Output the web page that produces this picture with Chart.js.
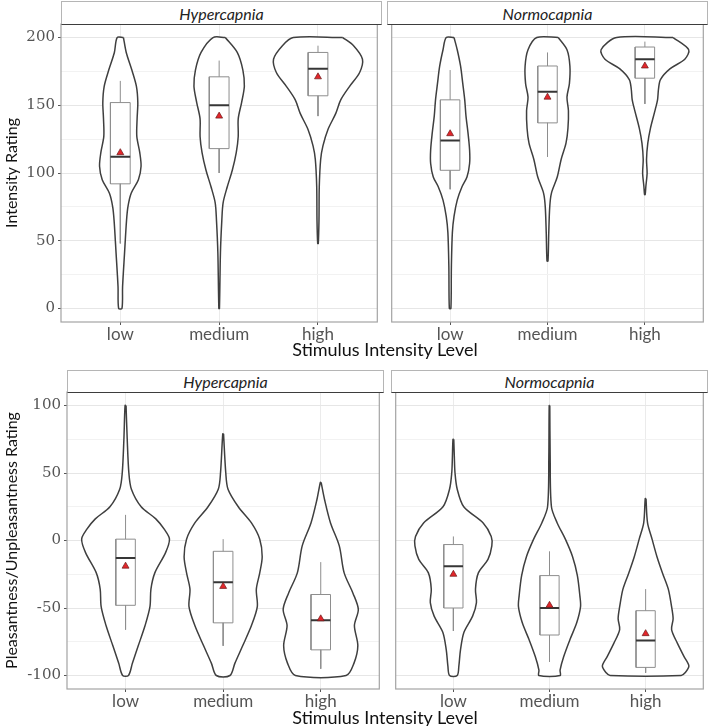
<!DOCTYPE html>
<html>
<head>
<meta charset="utf-8">
<script src="https://cdn.jsdelivr.net/npm/chart.js@4.4.1/dist/chart.umd.min.js"></script>
<style>
  body { margin: 0; background: #fff; width: 709px; height: 726px; position: relative; overflow: hidden; }
  canvas { position: absolute; }
  .strip { position: absolute; box-sizing: border-box; background: #fff; border: 1px solid #b5b5b5;
           border-bottom: 1.5px solid #3d3d3d; font: italic 16px Lato; color: #222;
           display: flex; align-items: center; justify-content: center; }
  .xtitle { position: absolute; width: 400px; text-align: center; font: 18px Lato; color: #111; line-height: 20px; }
</style>
</head>
<body>
<script>
const levels = ['low', 'medium', 'high'];
const conditions = ['Hypercapnia', 'Normocapnia'];
const intensityTicks = [0, 50, 100, 150, 200];
const valenceTicks = [-100, -50, 0, 50, 100];

// violin outlines: [rating, half width in category units], top to bottom
const hyperIntLow = [[200,0.032],[189,0.06],[176,0.117],[164,0.163],[152,0.177],[140,0.17],[127,0.167],[115,0.197],[105,0.21],[95,0.183],[85,0.11],[75,0.077],[65,0.063],[41,0.043],[16,0.023],[0,0.017]];
const hyperIntMed = [[200,0.062],[189,0.183],[176,0.24],[164,0.255],[152,0.227],[140,0.193],[127,0.193],[115,0.173],[102,0.133],[90,0.083],[78,0.04],[65,0.027],[41,0.013],[0,0.003]];
const hyperIntHigh = [[200,0.25],[194,0.36],[184,0.45],[174,0.42],[164,0.32],[154,0.23],[144,0.18],[132,0.1],[120,0.05],[110,0.027],[90,0.013],[65,0.01],[48,0.003]];

const normoIntLow = [[200,0.04],[191,0.073],[179,0.107],[166,0.13],[154,0.15],[142,0.163],[130,0.183],[117,0.2],[107,0.2],[97,0.173],[90,0.123],[80,0.073],[68,0.04],[56,0.023],[31,0.013],[0,0.008]];
const normoIntMed = [[200,0.11],[191,0.2],[179,0.23],[166,0.225],[156,0.2],[146,0.215],[133,0.21],[122,0.19],[110,0.14],[97,0.1],[85,0.04],[75,0.023],[56,0.013],[35,0.005]];
const normoIntHigh = [[200,0.29],[191,0.45],[184,0.41],[177,0.26],[169,0.16],[162,0.14],[154,0.13],[147,0.107],[133,0.057],[122,0.03],[110,0.017],[100,0.023],[90,0.01],[84,0.003]];

const hyperValLow = [[100,0.005],[75,0.017],[50,0.034],[38,0.06],[25,0.16],[16,0.31],[8,0.4],[1,0.45],[-9,0.41],[-24,0.3],[-36,0.26],[-49,0.25],[-63,0.2],[-78,0.13],[-91,0.07],[-100,0.03]];
const hyperValMed = [[79,0.004],[50,0.027],[38,0.05],[25,0.155],[13,0.29],[1,0.375],[-12,0.4],[-24,0.375],[-36,0.34],[-49,0.35],[-63,0.29],[-78,0.2],[-91,0.12],[-100,0.07]];
const hyperValHigh = [[43,0.004],[30,0.04],[13,0.1],[-4,0.19],[-24,0.24],[-39,0.33],[-51,0.385],[-63,0.345],[-78,0.38],[-91,0.34],[-100,0.26]];

const normoValLow = [[75,0.004],[62,0.01],[50,0.017],[38,0.04],[25,0.108],[13,0.31],[3,0.394],[-4,0.4],[-14,0.36],[-24,0.26],[-36,0.23],[-46,0.24],[-56,0.2],[-68,0.11],[-81,0.074],[-93,0.057],[-100,0.04]];
const normoValMed = [[100,0.003],[62,0.007],[25,0.02],[13,0.08],[1,0.165],[-12,0.24],[-26,0.29],[-41,0.316],[-49,0.323],[-61,0.283],[-73,0.215],[-86,0.148],[-96,0.11],[-100,0.11]];
const normoValHigh = [[31,0.004],[13,0.02],[1,0.067],[-12,0.118],[-24,0.175],[-36,0.236],[-49,0.27],[-58,0.286],[-66,0.27],[-76,0.33],[-86,0.4],[-93,0.45],[-98,0.41],[-100,0.37]];

// boxes: [lower whisker, q1, median, q3, upper whisker] per level
const hyperIntBox = [[48,92,112,152,168],[100,118,150,171,183],[142,157,177,189,194]];
const normoIntBox = [[88,102,124,154,176],[112,137,160,179,189],[151,170,184,193,197]];
const hyperValBox = [[-66,-48,-13,1,19],[-78,-61,-31,-8,1],[-95,-81,-59,-40,-16]];
const normoValBox = [[-67,-50,-19,-3,3],[-90,-70,-50,-26,-8],[-98,-94,-74,-52,-36]];

// means (red triangles)
const hyperIntMean = [115, 142, 171];
const normoIntMean = [129, 156, 179];
const hyperValMean = [-19, -34, -58];
const normoValMean = [-25, -48, -69];

const panels = [
  {label: conditions[0], violins: [hyperIntLow, hyperIntMed, hyperIntHigh], boxes: hyperIntBox, means: hyperIntMean,
   ticks: intensityTicks, yTitle: 'Intensity Rating', first: true, left: 61, right: 381, stripTop: 1, top: 24, bottom: 322},
  {label: conditions[1], violins: [normoIntLow, normoIntMed, normoIntHigh], boxes: normoIntBox, means: normoIntMean,
   ticks: intensityTicks, first: false, left: 387, right: 707, stripTop: 1, top: 24, bottom: 322},
  {label: conditions[0], violins: [hyperValLow, hyperValMed, hyperValHigh], boxes: hyperValBox, means: hyperValMean,
   ticks: valenceTicks, yTitle: 'Pleasantness/Unpleasantness Rating', first: true, left: 67, right: 383, stripTop: 370, top: 392, bottom: 689},
  {label: conditions[1], violins: [normoValLow, normoValMed, normoValHigh], boxes: normoValBox, means: normoValMean,
   ticks: valenceTicks, first: false, left: 391, right: 707, stripTop: 370, top: 392, bottom: 689}
];

const BOX_W = 0.1;
const X_AXIS_H = 26;

function violinPoints(c, profile) {
  const right = profile.map(([y, w]) => ({x: c + w, y: y}));
  const left = profile.slice().reverse().map(([y, w]) => ({x: c - w, y: y}));
  return right.concat(left, [right[0]]);
}

function seg(points, color, width, order) {
  return {data: points, showLine: true, pointRadius: 0, borderColor: color, borderWidth: width, tension: 0, order: order};
}

function buildDatasets(p) {
  const sets = [];
  sets.push({
    data: p.means.map((m, i) => ({x: i + 1, y: m})),
    pointStyle: 'triangle', pointRadius: 4, backgroundColor: '#e3262b',
    borderColor: '#6a1818', borderWidth: 0.7, showLine: false, order: 0
  });
  p.boxes.forEach((b, i) => {
    const c = i + 1;
    const [lo, q1, med, q3, hi] = b;
    sets.push(seg([{x: c - BOX_W, y: med}, {x: c + BOX_W, y: med}], '#363636', 2, 1));
    sets.push(seg([{x: c - BOX_W, y: q1}, {x: c + BOX_W, y: q1}, {x: c + BOX_W, y: q3},
                   {x: c - BOX_W, y: q3}, {x: c - BOX_W, y: q1}], '#8e8e8e', 1, 2));
    sets.push(seg([{x: c, y: q3}, {x: c, y: hi}], '#8e8e8e', 1, 2));
    sets.push(seg([{x: c, y: q1}, {x: c, y: lo}], '#8e8e8e', 1, 2));
  });
  p.violins.forEach((v, i) => {
    sets.push({
      data: violinPoints(i + 1, v), showLine: true, pointRadius: 0,
      borderColor: '#3f3f3f', borderWidth: 1.5, backgroundColor: '#fff',
      fill: 'shape', tension: 0.3, order: 3
    });
  });
  return sets;
}

const panelBorder = {
  id: 'panelBorder',
  afterDraw(chart) {
    const {ctx, chartArea: a} = chart;
    ctx.save();
    ctx.strokeStyle = '#a3a3a3';
    ctx.lineWidth = 1.2;
    ctx.strokeRect(a.left, a.top, a.right - a.left, a.bottom - a.top);
    ctx.restore();
  }
};

panels.forEach(p => {
  const canvasLeft = p.first ? 0 : p.left;
  const canvas = document.createElement('canvas');
  canvas.width = p.right + 1 - canvasLeft;
  canvas.height = p.bottom - p.stripTop + X_AXIS_H;
  canvas.style.left = canvasLeft + 'px';
  canvas.style.top = p.stripTop + 'px';
  document.body.appendChild(canvas);

  const strip = document.createElement('div');
  strip.className = 'strip';
  strip.textContent = p.label;
  strip.style.left = p.left + 'px';
  strip.style.top = p.stripTop + 'px';
  strip.style.width = (p.right - p.left + 1) + 'px';
  strip.style.height = (p.top - p.stripTop + 1) + 'px';
  document.body.appendChild(strip);

  const span = p.ticks[p.ticks.length - 1] - p.ticks[0];
  const yAxisW = p.left - canvasLeft;

  new Chart(canvas, {
    type: 'scatter',
    data: {datasets: buildDatasets(p)},
    options: {
      responsive: false,
      animation: false,
      events: [],
      layout: {padding: {top: p.top - p.stripTop, right: 1, left: 0, bottom: 0}},
      plugins: {legend: {display: false}, tooltip: {enabled: false}},
      scales: {
        x: {
          type: 'linear', min: 0.4, max: 3.6,
          afterBuildTicks: s => { s.ticks = levels.map((l, i) => ({value: i + 1})); },
          afterFit: s => { s.height = X_AXIS_H; },
          ticks: {
            autoSkip: false, maxRotation: 0, padding: -1, color: '#555',
            font: {family: 'Lato', size: 17},
            callback: v => levels[Math.round(v) - 1]
          },
          grid: {color: '#ebebeb', lineWidth: 1, tickLength: 3, tickColor: '#555'},
          border: {display: false}
        },
        y: {
          min: p.ticks[0] - span * 0.05, max: p.ticks[p.ticks.length - 1] + span * 0.05,
          afterFit: s => { s.width = yAxisW; },
          ticks: {
            display: p.first, stepSize: 25, includeBounds: false, autoSkip: false, padding: 3,
            color: '#555', font: {family: 'DejaVu Serif', size: 15},
            callback: v => p.ticks.includes(v) ? String(v) : ''
          },
          grid: {
            drawTicks: p.first, tickLength: 3,
            color: ctx => p.ticks.includes(ctx.tick.value) ? '#e6e6e6' : '#f2f2f2',
            tickColor: ctx => p.ticks.includes(ctx.tick.value) ? '#555' : 'rgba(0,0,0,0)'
          },
          border: {display: false},
          title: {
            display: p.first, text: p.yTitle || '', color: '#111',
            font: {family: 'Lato', size: 16}, padding: {top: 2, bottom: 0}
          }
        }
      }
    },
    plugins: [panelBorder]
  });
});

[349, 717].forEach(y => {
  const t = document.createElement('div');
  t.className = 'xtitle';
  t.textContent = 'Stimulus Intensity Level';
  t.style.left = (385 - 200) + 'px';
  t.style.top = (y - 10) + 'px';
  document.body.appendChild(t);
});
</script>
</body>
</html>
